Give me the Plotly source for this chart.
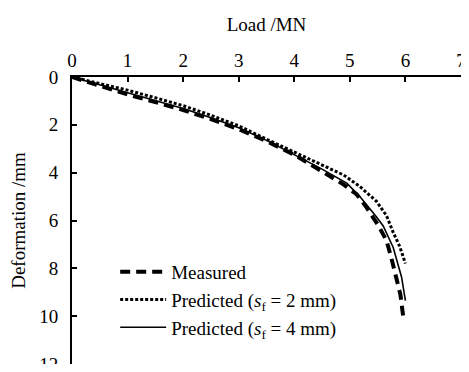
import plotly.graph_objects as go

# Data
meas_load = [0, 0.5, 1.0, 1.5, 2.0, 2.5, 3.0, 3.5, 4.0, 4.5, 4.89, 5.12, 5.3, 5.51, 5.66, 5.75, 5.84, 5.91, 5.97]
meas_def  = [0, 0.37, 0.73, 1.05, 1.38, 1.76, 2.18, 2.68, 3.25, 3.95, 4.5, 4.9, 5.45, 6.2, 6.84, 7.6, 8.36, 9.1, 10.2]

pred2_load = [0, 0.5, 1.0, 1.5, 2.0, 2.5, 3.0, 3.5, 4.06, 4.5, 4.89, 5.18, 5.48, 5.66, 5.78, 5.9, 6.0]
pred2_def  = [0, 0.27, 0.55, 0.87, 1.2, 1.6, 2.04, 2.6, 3.2, 3.65, 4.1, 4.58, 5.2, 5.8, 6.5, 7.1, 7.8]

pred4_load = [0, 0.5, 1.0, 1.5, 2.0, 2.5, 3.0, 3.5, 4.06, 4.5, 4.95, 5.18, 5.48, 5.6, 5.78, 5.93, 6.0]
pred4_def  = [0, 0.33, 0.66, 0.98, 1.32, 1.7, 2.12, 2.65, 3.33, 3.85, 4.45, 5.0, 5.85, 6.23, 7.13, 8.36, 9.35]

names = ["Measured",
         "Predicted (<i>s</i><sub>f</sub> = 2 mm)",
         "Predicted (<i>s</i><sub>f</sub> = 4 mm)"]

FONT = "Liberation Serif, Times New Roman, DejaVu Serif, serif"
FS = 19

fig = go.Figure()
fig.add_trace(go.Scatter(x=meas_load, y=meas_def, mode="lines", name=names[0],
                         line=dict(color="black", width=4, dash="10px,6px")))
fig.add_trace(go.Scatter(x=pred2_load, y=pred2_def, mode="lines", name=names[1],
                         line=dict(color="black", width=3, dash="3px,2px")))
fig.add_trace(go.Scatter(x=pred4_load, y=pred4_def, mode="lines", name=names[2],
                         line=dict(color="black", width=1.6)))

# The page body has an 8px margin, so the figure is sized to fit the window without scrolling
fig.update_layout(
    width=453, height=356,
    margin=dict(l=64, r=0, t=69, b=0),
    paper_bgcolor="white", plot_bgcolor="white",
    font=dict(family=FONT, size=FS, color="black"),
    showlegend=True,
    legend=dict(x=0.111, y=0.387, xanchor="left", yanchor="top",
                bgcolor="rgba(0,0,0,0)", font=dict(family=FONT, size=FS),
                itemwidth=46, tracegroupgap=0),
    xaxis=dict(side="top", range=[0, 7], dtick=1, tick0=0,
               showgrid=False, zeroline=False, automargin=False,
               showline=True, linecolor="black", linewidth=2,
               ticks="inside", ticklen=5, tickwidth=2, tickcolor="black",
               ticklabeloverflow="allow",
               title=dict(text="Load /MN", font=dict(family=FONT, size=FS), standoff=14)),
    yaxis=dict(range=[12, 0], dtick=2, tick0=0,
               showgrid=False, zeroline=False, automargin=False,
               showline=True, linecolor="black", linewidth=2,
               ticks="inside", ticklen=5, tickwidth=2, tickcolor="black",
               ticklabelstandoff=8, ticklabeloverflow="allow",
               title=dict(text="Deformation /mm", font=dict(family=FONT, size=FS), standoff=10)),
)

fig.write_html("out.html")
